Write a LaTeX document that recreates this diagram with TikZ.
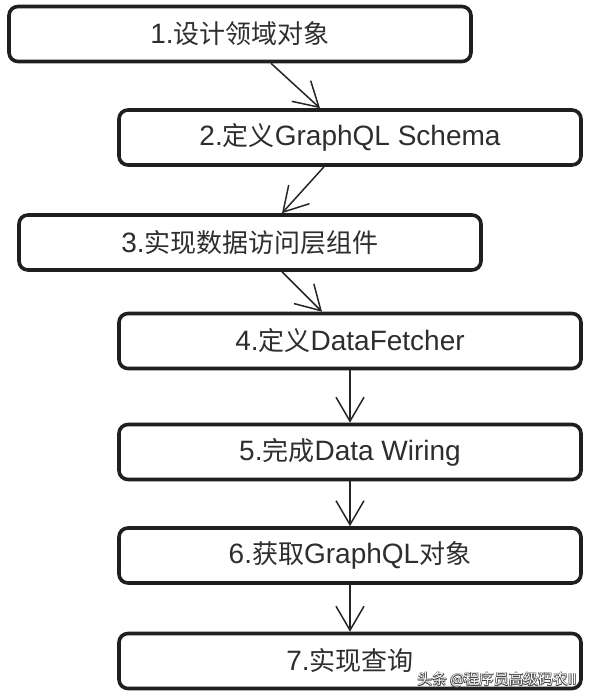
\documentclass[tikz,border=0pt]{standalone}
\usepackage{fontspec}
\setmainfont{Liberation Sans}
\newfontfamily\cjk{Noto Sans CJK SC}
\usetikzlibrary{arrows.meta}
\newcommand\zh[1]{{\cjk\fontsize{26}{30}\selectfont #1}}
\newcommand\wmtext{{\cjk\fontsize{14.8}{16}\selectfont 头条 @程序员高级码农II}}
\begin{document}
\begin{tikzpicture}[x=1pt,y=-1pt,
  box/.style={draw=black!88, line width=3.6pt, rounded corners=9pt,
    minimum width=462pt, minimum height=55pt, inner sep=0pt, fill=white,
    font=\fontsize{28}{30}\selectfont, text=black!82},
  flow/.style={line width=1.5pt, draw=black!85,
    -{Straight Barb[length=24pt,width=28pt,line width=1.5pt]}},
  wmshadow/.style={inner sep=0pt, text=black!75},
  wmfront/.style={inner sep=0pt, text=white}]
\useasboundingbox[fill=white] (0,0) rectangle (591,696);

\node[box] (b1) at (240,34)    {1.\zh{设计领域对象}};
\node[box] (b2) at (350,137.5) {2.\zh{定义}GraphQL Schema};
\node[box] (b3) at (250,242.5) {3.\zh{实现数据访问层组件}};
\node[box] (b4) at (350,341)   {4.\zh{定义}DataFetcher};
\node[box] (b5) at (350,452)   {5.\zh{完成}Data Wiring};
\node[box] (b6) at (350,555.5) {6.\zh{获取}GraphQL\zh{对象}};
\node[box] (b7) at (350,661)   {7.\zh{实现查询}};

\draw[flow] ([xshift=31pt]b1.south) -- ([xshift=-30pt]b2.north);
\draw[flow] ([xshift=-26pt]b2.south) -- ([xshift=32pt]b3.north);
\draw[flow] ([xshift=32pt]b3.south) -- ([xshift=-28pt]b4.north);
\draw[flow] (b4.south) -- (b5.north);
\draw[flow] (b5.south) -- (b6.north);
\draw[flow] (b6.south) -- (b7.north);

\node[wmshadow] (wma) at (497.6,679.6) {\wmtext};
\node[wmshadow] (wmb) at (496.4,680.4) {\wmtext};
\node[wmshadow] (wmc) at (497.6,680.4) {\wmtext};
\node[wmshadow] (wmd) at (496.4,679.6) {\wmtext};
\node[wmfront]  (wme) at (497,680)     {\wmtext};
\end{tikzpicture}
\end{document}
